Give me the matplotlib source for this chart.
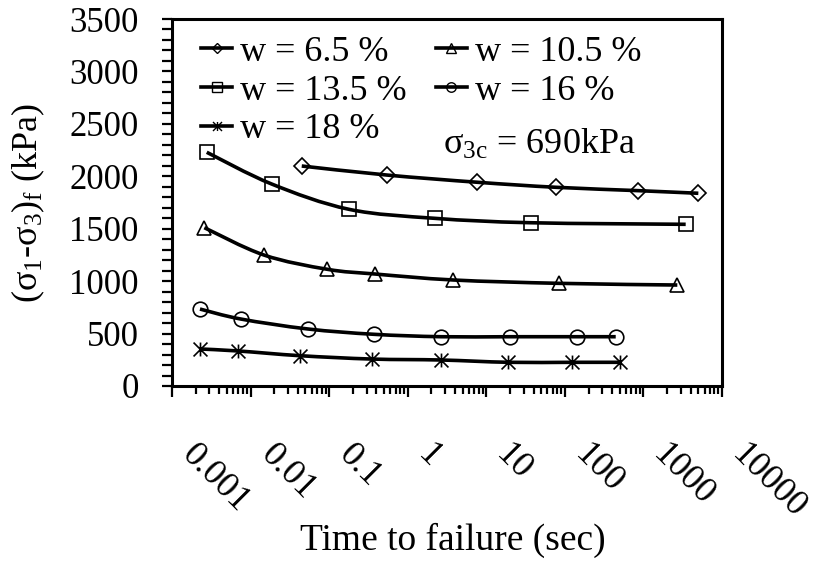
import numpy as np
import matplotlib
matplotlib.use("Agg")
import matplotlib.pyplot as plt
from matplotlib.path import Path
from matplotlib.patches import PathPatch
from matplotlib.lines import Line2D
from matplotlib.transforms import ScaledTranslation

plt.rcParams['font.family'] = ['Liberation Serif', 'DejaVu Serif']
plt.rcParams['mathtext.fontset'] = 'custom'
plt.rcParams['mathtext.rm'] = 'Liberation Serif'
plt.rcParams['mathtext.it'] = 'Liberation Serif:italic'
plt.rcParams['mathtext.default'] = 'regular'

# time to failure (sec) and deviator stress at failure (kPa) per water content
t_65 = [0.0448, 0.54, 7.7, 77, 861, 5000]
q_65 = [2098, 2012, 1943, 1895, 1863, 1838]

t_105 = [0.00258, 0.0148, 0.0949, 0.384, 3.8, 85, 2700]
q_105 = [1510, 1249, 1113, 1068, 1011, 979, 963]

t_135 = [0.00277, 0.0186, 0.179, 2.22, 36.8, 3450]
q_135 = [2229, 1926, 1685, 1599, 1557, 1542]

t_16 = [0.00227, 0.00748, 0.0533, 0.372, 2.65, 20, 141.6, 444]
q_16 = [734, 639, 544, 493, 470, 470, 470, 470]

t_18 = [0.00227, 0.00698, 0.0426, 0.348, 2.65, 19, 124, 503]
q_18 = [353, 334, 289, 257, 248, 226, 226, 226]

labels = ['w = 6.5 %', 'w = 10.5 %', 'w = 13.5 %', 'w = 16 %', 'w = 18 %']
xtick_vals = [0.001, 0.01, 0.1, 1, 10, 100, 1000, 10000]
xtick_text = ['0.001', '0.01', '0.1', '1', '10', '100', '1000', '10000']

# asterisk marker: vertical bar plus an X
star = Path([(0, -1), (0, 1), (-1, -1), (1, 1), (-1, 1), (1, -1)],
            [Path.MOVETO, Path.LINETO] * 3)


def smooth_path(t, q):
    # catmull-rom style bezier through the points, built in log-time space
    lx = np.log10(t)
    pts = np.column_stack([lx, q]).astype(float)
    n = len(pts)
    verts = [pts[0]]
    codes = [Path.MOVETO]
    for i in range(n - 1):
        p0 = pts[i - 1] if i > 0 else pts[i]
        p1 = pts[i]
        p2 = pts[i + 1]
        p3 = pts[i + 2] if i + 2 < n else pts[i + 1]
        c1 = p1 + (p2 - p0) / 6.0
        c2 = p2 - (p3 - p1) / 6.0
        verts += [c1, c2, p2]
        codes += [Path.CURVE4] * 3
    verts = np.array(verts)
    verts[:, 0] = 10 ** verts[:, 0]
    return Path(verts, codes)


fig = plt.figure(figsize=(8.13, 5.61), dpi=100)
ax = fig.add_axes([172 / 813, 1 - 386 / 561, 550 / 813, 367 / 561])
ax.set_xscale('log')
ax.set_xlim(0.001, 10000)
ax.set_ylim(0, 3500)

series = [
    (t_65, q_65, 'D', 8),
    (t_105, q_105, '^', 10.5),
    (t_135, q_135, 's', 10),
    (t_16, q_16, 'o', 10.5),
    (t_18, q_18, star, 10),
]

handles = []
for (t, q, m, ms), lab in zip(series, labels):
    ax.add_patch(PathPatch(smooth_path(t, q), fill=False, lw=2.6,
                           ec='black', zorder=2))
    ax.plot(t, q, ls='none', zorder=3, marker=m, ms=ms, mfc='none',
            mec='black', mew=1.2)
    handles.append(Line2D([], [], color='black', lw=2.6, marker=m,
                          ms=ms * 0.65, mfc='none', mec='black',
                          mew=1.0, label=lab))

# two-column legend: 6.5/10.5, 13.5/16, 18
order = [0, 2, 4, 1, 3]
ax.legend([handles[i] for i in order], [labels[i] for i in order],
          ncol=2, frameon=False, fontsize=26, loc='upper left',
          bbox_to_anchor=(0.046, 0.964), handlelength=0.87,
          handletextpad=0.22, columnspacing=0.8, labelspacing=0.15,
          borderpad=0.1, borderaxespad=0)

ax.text(0.4927, 0.657, r'$\sigma_{3c}$ = 690kPa', transform=ax.transAxes,
        fontsize=26, ha='left', va='center')

ax.set_yticks(np.arange(0, 3501, 500))
ax.set_yticks(np.arange(0, 3501, 100), minor=True)
ax.set_xticks(xtick_vals)
ax.set_xticklabels(xtick_text, rotation=-45, ha='left', va='top',
                   rotation_mode='anchor', fontsize=26)
ax.xaxis.set_minor_locator(matplotlib.ticker.LogLocator(base=10,
                           subs=np.arange(2, 10), numticks=20))
ax.xaxis.set_minor_formatter(matplotlib.ticker.NullFormatter())

ax.tick_params(axis='both', which='both', direction='out', width=1.6,
               top=False, right=False)
ax.tick_params(axis='y', which='major', length=7, pad=17, labelsize=25)
ax.tick_params(axis='y', which='minor', length=7)
ax.tick_params(axis='x', which='major', length=8, pad=30)
ax.tick_params(axis='x', which='minor', length=6)

shift = ScaledTranslation(19 / 72, 0, fig.dpi_scale_trans)
for lbl in ax.get_xticklabels():
    lbl.set_transform(lbl.get_transform() + shift)

for sp in ax.spines.values():
    sp.set_linewidth(2.2)

fig.text(28 / 813, 1 - 203 / 561, r'$(\sigma_1$-$\sigma_3)_f$ (kPa)',
         fontsize=26, rotation=90, ha='center', va='center')
fig.text(453 / 813, 1 - 540 / 561, 'Time to failure (sec)', fontsize=27,
         ha='center', va='center')

fig.savefig('out.png', dpi=100)
